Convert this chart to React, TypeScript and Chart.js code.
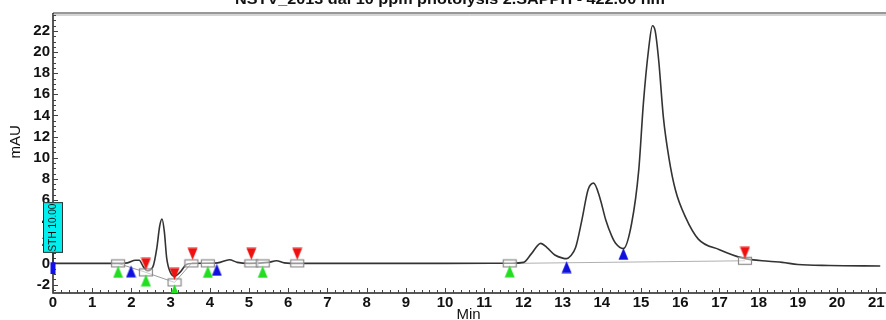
import React, { useEffect, useRef } from "react";
import { Chart, registerables } from "chart.js";
Chart.register(...registerables);

const timeMin = [
  0, 1.0, 1.6, 1.9, 2.1, 2.2, 2.3, 2.4, 2.55, 2.65, 2.72, 2.78, 2.84, 2.9, 3.0, 3.1, 3.25, 3.4, 3.55,
  4.2, 4.5, 4.7, 5.0, 5.5, 5.7, 5.9, 6.3, 8, 10, 11.7, 12.0, 12.2, 12.44, 12.6, 12.8, 13.0, 13.1, 13.2,
  13.33, 13.49, 13.65, 13.79, 13.95, 14.1, 14.25, 14.35, 14.55, 14.76, 14.94, 15.06, 15.19, 15.29,
  15.36, 15.45, 15.57, 15.71, 15.88, 16.13, 16.46, 17.0, 17.6, 18.25, 18.6, 19.0, 19.8, 21.1,
];
const absorbance = [
  0, 0, 0, 0.05, 0.3, 0.3, -0.3, -0.7, -0.3, 1.5, 3.5, 4.2, 3.0, 0.5, -0.9, -1.2, -0.8, -0.1, 0,
  0.05, 0.35, 0.1, 0, 0.1, 0.25, 0.05, 0, 0, 0, 0.02, 0.1, 0.9, 1.9, 1.5, 0.8, 0.5, 0.45, 0.7,
  1.5, 4.1, 7.0, 7.6, 6.2, 4.1, 2.6, 1.9, 1.4, 3.8, 8.8, 15.2, 20.2, 22.5,
  22.0, 19.2, 13.8, 10.0, 6.9, 4.4, 2.3, 1.3, 0.5, 0.2, 0.1, -0.1, -0.2, -0.25,
];
const xTickValues = [0, 1, 2, 3, 4, 5, 6, 7, 8, 9, 10, 11, 12, 13, 14, 15, 16, 17, 18, 19, 20, 21];
const yTickValues = [-2, 0, 2, 4, 6, 8, 10, 12, 14, 16, 18, 20, 22];

const squareX = [1.66, 2.37, 3.1, 3.53, 3.95, 5.06, 5.35, 6.23, 11.65, 17.65];
const squareY = [0, -0.85, -1.8, 0, 0, 0, 0, 0, 0, 0.25];
const greenX = [1.66, 2.37, 3.1, 3.95, 5.35, 11.65];
const greenY = [-0.8, -1.6, -2.55, -0.8, -0.8, -0.75];
const blueX = [1.99, 4.18, 13.1, 14.55];
const blueY = [-0.75, -0.6, -0.35, 0.9];
const redX = [2.37, 3.1, 3.56, 5.06, 6.23, 17.65];
const redY = [-0.05, -1.0, 0.9, 0.9, 0.9, 1.0];
const baseline1X = [1.66, 2.37, 3.1, 3.53];
const baseline1Y = [0, -0.85, -1.8, 0];
const baseline2X = [11.65, 17.65];
const baseline2Y = [0, 0.25];
const eventX = [0, 0];
const eventY = [0.1, -1.0];

const titleText = "NSTV_2013 dal 10 ppm photolysis 2.SAPPH - 422.00 nm";
const labelText = "STH 10.00";

const pts = (xs: number[], ys: number[]) => xs.map((x, i) => ({ x, y: ys[i] }));

function triImg(color: string, down: boolean) {
  const c = document.createElement("canvas");
  c.width = 11;
  c.height = 13;
  const g = c.getContext("2d")!;
  g.beginPath();
  if (down) {
    g.moveTo(0.5, 0.5);
    g.lineTo(10.5, 0.5);
    g.lineTo(5.5, 12.5);
  } else {
    g.moveTo(5.5, 0.5);
    g.lineTo(10.5, 12.5);
    g.lineTo(0.5, 12.5);
  }
  g.closePath();
  g.fillStyle = color;
  g.fill();
  return c;
}
function rectImg() {
  const c = document.createElement("canvas");
  c.width = 16;
  c.height = 10;
  const g = c.getContext("2d")!;
  g.fillStyle = "rgba(255,255,255,0.5)";
  g.fillRect(1, 1, 14, 8);
  g.strokeStyle = "#8a8a8a";
  g.lineWidth = 1.2;
  g.strokeRect(1.5, 1.5, 13, 7);
  return c;
}

const decor = {
  id: "decor",
  beforeDatasetsDraw(chart: any) {
    const { ctx, chartArea: a, scales } = chart;
    const xs = scales.x;
    const ys = scales.y;
    ctx.save();
    ctx.strokeStyle = "#222";
    ctx.lineWidth = 1.5;
    ctx.beginPath();
    ctx.moveTo(a.left, a.top);
    ctx.lineTo(a.left, a.bottom);
    ctx.lineTo(chart.width, a.bottom);
    ctx.stroke();
    ctx.lineWidth = 1.2;
    ctx.strokeStyle = "#333";
    ctx.beginPath();
    ctx.moveTo(a.left, a.top);
    ctx.lineTo(chart.width, a.top);
    ctx.stroke();
    ctx.strokeStyle = "#aaa";
    ctx.lineWidth = 1;
    ctx.beginPath();
    ctx.moveTo(a.left, a.top + 2);
    ctx.lineTo(chart.width, a.top + 2);
    ctx.stroke();
    ctx.strokeStyle = "#444";
    ctx.lineWidth = 1;
    ctx.beginPath();
    for (let v = 0; v <= 21.1; v += 0.2) {
      const px = Math.round(xs.getPixelForValue(v)) + 0.5;
      const len = Math.abs(v - Math.round(v)) < 0.01 ? 5 : 3;
      ctx.moveTo(px, a.bottom);
      ctx.lineTo(px, a.bottom - len);
    }
    for (let v = -2.5; v <= 23.5; v += 0.5) {
      const py = Math.round(ys.getPixelForValue(v)) + 0.5;
      const len = Math.abs(v / 2 - Math.round(v / 2)) < 0.01 ? 5 : 3;
      ctx.moveTo(a.left, py);
      ctx.lineTo(a.left + len, py);
    }
    ctx.stroke();
    ctx.restore();
  },
  afterDraw(chart: any) {
    const { ctx, scales } = chart;
    const xs = scales.x;
    const ys = scales.y;
    ctx.save();
    // title (cut at top)
    ctx.fillStyle = "#111";
    ctx.font = "bold 15px 'Liberation Sans', Arial";
    ctx.textBaseline = "alphabetic";
    const w = ctx.measureText(titleText).width;
    ctx.save();
    ctx.translate(235, 4);
    ctx.scale(430 / w, 1);
    ctx.fillText(titleText, 0, 0);
    ctx.restore();
    // axis titles
    ctx.font = "15px 'Liberation Sans', Arial";
    ctx.fillStyle = "#111";
    ctx.textAlign = "center";
    ctx.textBaseline = "top";
    ctx.fillText("Min", xs.getPixelForValue(10.6), 307);
    ctx.save();
    ctx.translate(16, ys.getPixelForValue(11.5));
    ctx.rotate(-Math.PI / 2);
    ctx.textBaseline = "middle";
    ctx.fillText("mAU", 0, 0);
    ctx.restore();
    // STH label box
    const bx = xs.getPixelForValue(0);
    const top = ys.getPixelForValue(5.8);
    const bot = ys.getPixelForValue(1.0);
    ctx.strokeStyle = "#222";
    ctx.lineWidth = 1;
    ctx.beginPath();
    ctx.moveTo(bx, bot);
    ctx.lineTo(bx, ys.getPixelForValue(0.1));
    ctx.stroke();
    ctx.fillStyle = "#00f0f0";
    ctx.fillRect(bx - 10, top, 20, bot - top);
    ctx.strokeStyle = "#333";
    ctx.strokeRect(bx - 10 + 0.5, top + 0.5, 19, bot - top - 1);
    ctx.save();
    ctx.translate(bx + 0.5, (top + bot) / 2);
    ctx.rotate(-Math.PI / 2);
    ctx.fillStyle = "#111";
    ctx.font = "10px 'Liberation Sans', Arial";
    ctx.textAlign = "center";
    ctx.textBaseline = "middle";
    ctx.fillText(labelText, 0, 0);
    ctx.restore();
    ctx.restore();
  },
};

export default function App() {
  const ref = useRef<HTMLCanvasElement>(null);
  useEffect(() => {
    document.body.style.margin = "0";
    const sq = rectImg();
    const chart = new Chart(ref.current!, {
      type: "scatter",
      data: {
        datasets: [
          { data: pts(eventX, eventY), showLine: true, borderColor: "#1010ee", borderWidth: 5, pointRadius: 0, clip: false },
          { data: pts(redX, redY), pointStyle: triImg("#ee1111", true) as any, showLine: false },
          { data: pts(greenX, greenY), pointStyle: triImg("#22dd22", false) as any, showLine: false },
          { data: pts(blueX, blueY), pointStyle: triImg("#1010dd", false) as any, showLine: false },
          { data: pts(squareX, squareY), pointStyle: sq as any, showLine: false },
          {
            data: pts(timeMin, absorbance),
            showLine: true,
            borderColor: "#333",
            borderWidth: 1.6,
            pointRadius: 0,
            cubicInterpolationMode: "monotone",
          },
          { data: pts(baseline1X, baseline1Y), showLine: true, borderColor: "#9a9a9a", borderWidth: 1, pointRadius: 0 },
          { data: pts(baseline2X, baseline2Y), showLine: true, borderColor: "#b0b0b0", borderWidth: 1, pointRadius: 0 },
        ] as any,
      },
      options: {
        animation: false,
        responsive: true,
        maintainAspectRatio: false,
        layout: { padding: { left: 0, top: 13, right: 3, bottom: 0 } },
        plugins: { legend: { display: false }, tooltip: { enabled: false }, title: { display: false } },
        scales: {
          x: {
            type: "linear",
            min: 0,
            max: 21.12,
            grid: { display: false, drawTicks: false },
            border: { display: false },
            afterBuildTicks: (s: any) => {
              s.ticks = xTickValues.map((v) => ({ value: v }));
            },
            afterFit: (s: any) => {
              s.height = 27;
            },
            ticks: {
              padding: 1,
              maxRotation: 0,
              autoSkip: false,
              color: "#111",
              font: { family: "'Liberation Sans', Arial", size: 15, weight: "bold" },
              callback: (v: any) => String(v),
            },
          },
          y: {
            type: "linear",
            min: -2.8,
            max: 23.7,
            grid: { display: false, drawTicks: false },
            border: { display: false },
            afterBuildTicks: (s: any) => {
              s.ticks = yTickValues.map((v) => ({ value: v }));
            },
            afterFit: (s: any) => {
              s.width = 53;
            },
            ticks: {
              padding: 3,
              autoSkip: false,
              color: "#111",
              font: { family: "'Liberation Sans', Arial", size: 15, weight: "bold" },
              callback: (v: any) => String(v),
            },
          },
        },
      } as any,
      plugins: [decor],
    });
    return () => chart.destroy();
  }, []);
  return (
    <div style={{ width: 886, height: 320, position: "relative" }}>
      <canvas ref={ref} />
    </div>
  );
}
